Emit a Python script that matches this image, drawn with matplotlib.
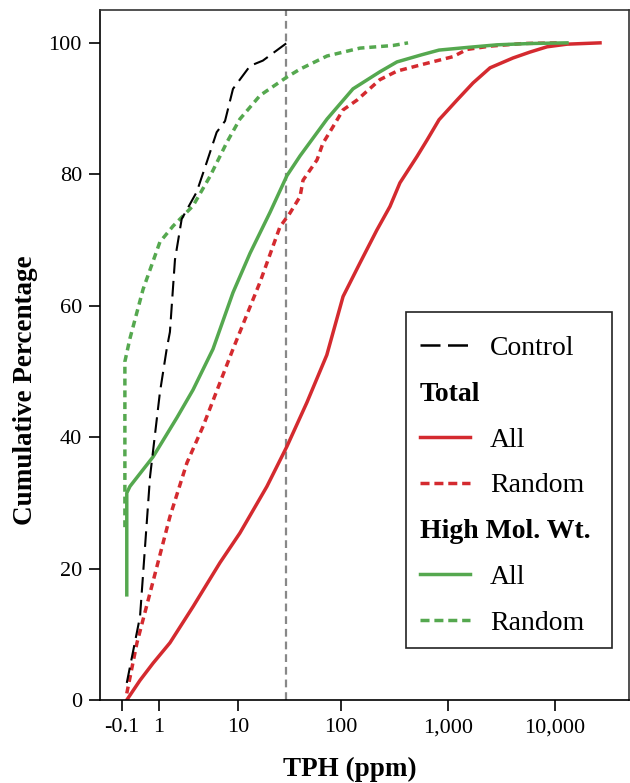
import numpy as np
import matplotlib.pyplot as plt
from matplotlib.lines import Line2D
from matplotlib.patches import Rectangle

plt.rcParams['font.family'] = ['Liberation Serif', 'DejaVu Serif']

# cumulative curves, x in ppm TPH, y in cumulative %
control_x = [0.0, 0.33, 0.65, 1.04, 1.36, 1.53, 1.82, 2.26, 3.5, 4.58, 5.92, 7.28, 8.83, 13.2, 17.7, 30.4]
control_y = [2.6, 12.7, 34, 46.8, 53.4, 56, 67, 73.2, 77.3, 81.8, 86.4, 88.1, 93, 96.5, 97.3, 100]

tot_all_x = [0.0, 0.33, 0.76, 1.53, 3.16, 6.43, 10.4, 19.4, 30.4, 47.3, 73, 104, 150, 216, 287,
             356, 514, 638, 827, 1219, 1720, 2480, 4068, 5865, 8457, 13000, 26450]
tot_all_y = [0, 3, 5.6, 8.7, 14.2, 20.9, 25.4, 32.5, 38.6, 45.3, 52.5, 61.4, 66.5, 71.5, 75.1,
             78.7, 82.7, 85.2, 88.3, 91.3, 93.9, 96.2, 97.7, 98.6, 99.4, 99.8, 100]

tot_rnd_x = [0.0, 0.245, 0.65, 1.53, 2.65, 4.15, 6.43, 8.83, 16.6, 26, 32.5, 40.6, 43.4, 59, 67,
             84, 104, 141, 231, 334, 573, 1117, 1512, 2480, 5044, 11185]
tot_rnd_y = [1.0, 8.7, 16.3, 27.9, 36.1, 41.6, 48.3, 53.4, 63.6, 72, 74.1, 76.6, 79.1, 82.2, 84.7,
             87.3, 89.8, 91.3, 94.4, 95.7, 96.7, 97.9, 99, 99.5, 99.9, 100]

hmw_all_x = [0.0, 0.0, 0.07, 0.76, 1.95, 3.16, 5.39, 8.83, 13.2, 20.8, 30.4, 40.6, 73.3, 129, 231,
             334, 573, 827, 1512, 2883, 5865, 13000]
hmw_all_y = [16, 31.5, 32.5, 37, 43, 47.2, 53.4, 62, 68, 74.2, 79.8, 82.8, 88.4, 93, 95.6,
             97.1, 98.2, 98.9, 99.3, 99.7, 99.9, 100]

hmw_rnd_x = [-0.04, -0.04, 0.07, 0.42, 1.04, 1.70, 3.16, 5.0, 7.64, 10.4, 16.6, 30.4, 40.6, 73.3,
             150, 306, 424]
hmw_rnd_y = [26.3, 51.5, 55, 62.5, 69.7, 72.1, 75.2, 79.7, 84.9, 88.4, 92, 94.8, 96, 98,
             99.2, 99.6, 100]

threshold = 30
xticks = [-0.1, 1, 10, 100, 1000, 10000]
xticklabels = ['-0.1', '1', '10', '100', '1,000', '10,000']
yticks = [0, 20, 40, 60, 80, 100]

red = '#d42a2f'
green = '#55a84f'


def fwd(x):
    return np.log10(np.clip(np.asarray(x, dtype=float) + 1, 1e-6, None))


def inv(u):
    return 10 ** np.asarray(u, dtype=float) - 1


fig = plt.figure(figsize=(6.3, 7.83), dpi=100)
ax = fig.add_axes([100 / 630, 83 / 783, 529 / 630, 690 / 783])
ax.set_xscale('function', functions=(fwd, inv))

ax.axvline(threshold, color='#888888', lw=1.6, dashes=(3.5, 2.2), zorder=1)
ax.plot(control_x, control_y, color='black', lw=1.5, dashes=(7.5, 3.5), zorder=3)
ax.plot(tot_all_x, tot_all_y, color=red, lw=2.5, zorder=2)
ax.plot(tot_rnd_x, tot_rnd_y, color=red, lw=2.5, dashes=(2.0, 1.4), zorder=2)
ax.plot(hmw_all_x, hmw_all_y, color=green, lw=2.5, zorder=2)
ax.plot(hmw_rnd_x, hmw_rnd_y, color=green, lw=2.5, dashes=(2.0, 1.4), zorder=2)

ax.set_xlim(-0.438, 49350)
ax.set_ylim(0, 105)
ax.set_xticks(xticks)
ax.set_xticklabels(xticklabels)
ax.set_yticks(yticks)
ax.minorticks_off()
ax.tick_params(direction='out', length=8, width=1.2, labelsize=16, pad=5)

for s in ax.spines.values():
    s.set_linewidth(1.2)
ax.spines['top'].set_color('#333333')
ax.spines['right'].set_color('#333333')

ax.set_xlabel('TPH (ppm)', fontsize=19.5, fontweight='bold')
ax.set_ylabel('Cumulative Percentage', fontsize=19.5, fontweight='bold')
ax.xaxis.set_label_coords(0.473, -0.082)
ax.yaxis.set_label_coords(-0.117, 0.449)

# legend
handles = [
    Line2D([], [], color='black', lw=1.8, dashes=(8, 3)),
    Line2D([], [], color='none'),
    Line2D([], [], color=red, lw=2.5),
    Line2D([], [], color=red, lw=2.5, dashes=(2.6, 1.4)),
    Line2D([], [], color='none'),
    Line2D([], [], color=green, lw=2.5),
    Line2D([], [], color=green, lw=2.5, dashes=(2.6, 1.4)),
]
labels = ['Control', 'Total', 'All', 'Random', 'High Mol. Wt.', 'All', 'Random']
fs = 20
hl, hp = 1.8, 0.72
leg = ax.legend(handles, labels, loc='upper left', bbox_to_anchor=(0.5784, 0.548),
                frameon=False, fontsize=fs, handlelength=hl, handletextpad=hp,
                labelspacing=0.73, borderaxespad=0, borderpad=0.5)
shift = (hl + hp) * fs * fig.dpi / 72
for i in (1, 4):
    t = leg.get_texts()[i]
    t.set_fontweight('bold')
    t.set_position((-shift, 0))

ax.add_patch(Rectangle((0.5784, 0.0754), 0.3894, 0.487, transform=ax.transAxes,
                       fill=False, edgecolor='#222222', lw=1.2, zorder=5))

fig.savefig('out.png', dpi=100)
